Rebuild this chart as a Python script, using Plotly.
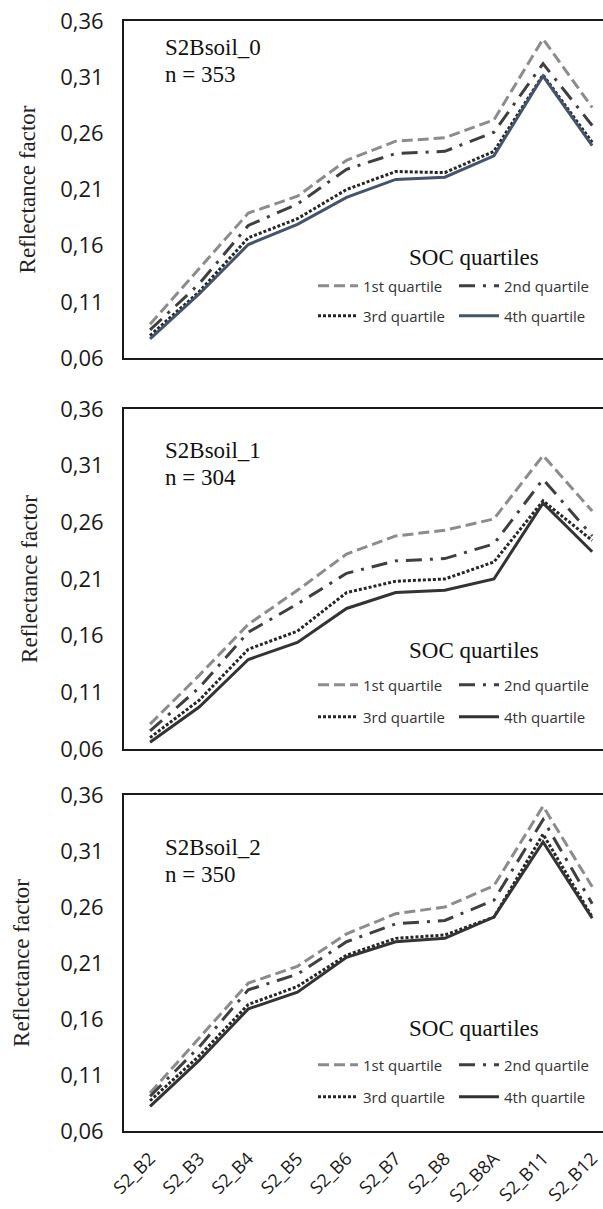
import plotly.graph_objects as go

bands = ["S2_B2", "S2_B3", "S2_B4", "S2_B5", "S2_B6", "S2_B7", "S2_B8", "S2_B8A", "S2_B11", "S2_B12"]
quartile_names = ["1st quartile", "2nd quartile", "3rd quartile", "4th quartile"]
y_ticks = [0.06, 0.11, 0.16, 0.21, 0.26, 0.31, 0.36]

panel_names = ["S2Bsoil_0", "S2Bsoil_1", "S2Bsoil_2"]
panel_n = ["n = 353", "n = 304", "n = 350"]

# S2Bsoil_0
q1_0 = [0.090, 0.140, 0.189, 0.204, 0.236, 0.253, 0.256, 0.272, 0.344, 0.283]
q2_0 = [0.085, 0.126, 0.178, 0.197, 0.228, 0.242, 0.244, 0.261, 0.322, 0.267]
q3_0 = [0.080, 0.119, 0.167, 0.184, 0.210, 0.226, 0.225, 0.244, 0.312, 0.252]
q4_0 = [0.077, 0.117, 0.161, 0.179, 0.203, 0.219, 0.221, 0.240, 0.311, 0.249]
# S2Bsoil_1
q1_1 = [0.082, 0.125, 0.170, 0.200, 0.232, 0.248, 0.253, 0.263, 0.319, 0.270]
q2_1 = [0.076, 0.114, 0.163, 0.188, 0.215, 0.226, 0.228, 0.241, 0.298, 0.248]
q3_1 = [0.070, 0.103, 0.148, 0.164, 0.198, 0.208, 0.210, 0.225, 0.279, 0.244]
q4_1 = [0.066, 0.097, 0.139, 0.154, 0.184, 0.198, 0.200, 0.210, 0.277, 0.234]
# S2Bsoil_2
q1_2 = [0.094, 0.143, 0.192, 0.207, 0.236, 0.254, 0.260, 0.279, 0.350, 0.278]
q2_2 = [0.091, 0.135, 0.186, 0.200, 0.229, 0.245, 0.248, 0.266, 0.338, 0.263]
q3_2 = [0.087, 0.127, 0.173, 0.189, 0.217, 0.232, 0.235, 0.251, 0.325, 0.251]
q4_2 = [0.082, 0.123, 0.169, 0.184, 0.215, 0.229, 0.232, 0.251, 0.318, 0.250]

panels = [[q1_0, q2_0, q3_0, q4_0], [q1_1, q2_1, q3_1, q4_1], [q1_2, q2_2, q3_2, q4_2]]

W, H = 603, 1209
ML, MR, MT, MB = 124, 0, 21, 78
PW, PH = W - ML - MR, H - MT - MB
# panel box pixel extents (top, bottom)
boxes = [(21, 358), (409, 749), (795, 1131)]

def py2paper(py):
    return (H - MB - py) / PH

def px2paper(px):
    return (px - ML) / PW

styles = [
    dict(color="#8c8c8c", dash="11px,5px"),
    dict(color="#3f3f3f", dash="16px,8px,3px,8px"),
    dict(color="#262626", dash="3px,2px"),
    dict(color="#333333", dash="solid"),
]
solid_colors = ["#44546a", "#333333", "#333333"]

serif = "Liberation Serif, Times New Roman, serif"
sans = "Open Sans, Liberation Sans, sans-serif"

fig = go.Figure()
layout = {}
annotations = []
legend_rows = [(286, 316), (685, 717), (1065, 1097)]
title_y = [257, 650, 1028]
ystandoffs = [18, 16, 24]

for p, series in enumerate(panels):
    sfx = "" if p == 0 else str(p + 1)
    for q, vals in enumerate(series):
        st = dict(styles[q])
        if q == 3:
            st["color"] = solid_colors[p]
        lg_idx = 2 * p + (1 if q < 2 else 2)
        lg = "legend" if lg_idx == 1 else f"legend{lg_idx}"
        fig.add_trace(go.Scatter(
            x=bands, y=vals, mode="lines", name=quartile_names[q],
            line=dict(color=st["color"], dash=st["dash"], width=3),
            xaxis="x" + sfx, yaxis="y" + sfx, legend=lg, showlegend=True,
            hoverinfo="skip",
        ))
    top, bot = boxes[p]
    layout["yaxis" + sfx] = dict(
        domain=[py2paper(bot), py2paper(top)], range=[0.06, 0.36],
        tickvals=y_ticks, tickformat=".2f", showgrid=False, zeroline=False,
        showline=True, linecolor="#1a1a1a", linewidth=2, mirror=False,
        ticks="", ticklabelstandoff=14, anchor="x" + sfx,
        tickfont=dict(family=sans, size=22, color="#1a1a1a"),
        title=dict(text="Reflectance factor", standoff=ystandoffs[p],
                   font=dict(family=serif, size=23, color="#222222")),
    )
    layout["xaxis" + sfx] = dict(
        domain=[0, 1], range=[-0.53, 9.22], type="category",
        showgrid=False, zeroline=False, showline=True, linecolor="#1a1a1a",
        linewidth=2, mirror=True, ticks="", anchor="y" + sfx,
        showticklabels=(p == 2), tickangle=-45, ticklabelstandoff=8,
        tickfont=dict(family=sans, size=18, color="#1a1a1a"),
    )
    # panel labels
    yt = [48, 450, 847][p]
    annotations.append(dict(text=panel_names[p], x=px2paper(163), y=py2paper(yt),
                            xref="paper", yref="paper", xanchor="left", yanchor="middle",
                            showarrow=False, font=dict(family=serif, size=23, color="#111111")))
    annotations.append(dict(text=panel_n[p], x=px2paper(163), y=py2paper(yt + 27),
                            xref="paper", yref="paper", xanchor="left", yanchor="middle",
                            showarrow=False, font=dict(family=serif, size=23, color="#111111")))
    annotations.append(dict(text="SOC quartiles", x=px2paper(474), y=py2paper(title_y[p]),
                            xref="paper", yref="paper", xanchor="center", yanchor="middle",
                            showarrow=False, font=dict(family=serif, size=23, color="#111111")))
    for r in range(2):
        idx = 2 * p + r + 1
        key = "legend" if idx == 1 else f"legend{idx}"
        layout[key] = dict(
            orientation="h", xref="container", yref="container",
            x=313 / W, y=1 - legend_rows[p][r] / H, xanchor="left", yanchor="middle",
            bgcolor="rgba(0,0,0,0)", borderwidth=0, itemwidth=40,
            entrywidth=86, entrywidthmode="pixels",
            font=dict(family=sans, size=15, color="#333333"),
            itemclick=False, itemdoubleclick=False,
        )

fig.update_layout(
    width=W, height=H, margin=dict(l=ML, r=MR, t=MT, b=MB, autoexpand=False),
    paper_bgcolor="white", plot_bgcolor="white", separators=",.",
    annotations=annotations, **layout,
)
fig.write_html("out.html")
